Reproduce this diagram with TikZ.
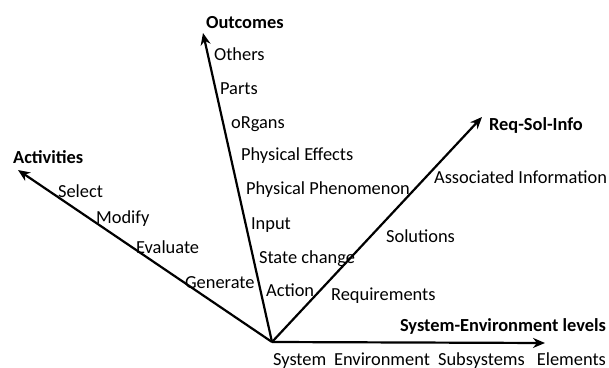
\documentclass[tikz,border=0pt]{standalone}
\usepackage{fontspec}
\setmainfont{Carlito}
\usetikzlibrary{arrows.meta}

\begin{document}
\begin{tikzpicture}[x=0.5pt, y=-0.5pt, line width=1.1pt, font=\fontsize{9.2}{11}\selectfont,
        lbl/.style = {inner sep=0pt, anchor=west, text height=1.5ex, text depth=0.4ex},
        ttl/.style = {lbl, font=\fontsize{9.2}{11}\selectfont\bfseries},
        axis/.style = {-{Stealth[length=6pt, width=5pt]}}]
        \useasboundingbox (0,0) rectangle (609,368);
        \coordinate (o) at (272,342);
        \coordinate (act) at (18,170);
        \coordinate (out) at (203,33);
        \coordinate (req) at (482,117);
        \coordinate (sys) at (545,343);
        \draw[axis] (o) -- (act);
        \draw[axis] (o) -- (out);
        \draw[axis] (o) -- (req);
        \draw[axis] (o) -- (sys);
        % axis titles
        \node[ttl] (acttitle) at (12,158) {Activities};
        \node[ttl] (outtitle) at (205,23) {Outcomes};
        \node[ttl] (reqtitle) at (488,125) {Req-Sol-Info};
        \node[ttl, anchor=east] (systitle) at (607,326) {System-Environment levels};
        % activities
        \node[lbl] (a1) at (57,192) {Select};
        \node[lbl] (a2) at (95,218) {Modify};
        \node[lbl] (a3) at (135,248) {Evaluate};
        \node[lbl] (a4) at (184,283) {Generate};
        % outcomes
        \node[lbl] (o1) at (213,55) {Others};
        \node[lbl] (o2) at (219,89) {Parts};
        \node[lbl] (o3) at (230,123) {oRgans};
        \node[lbl] (o4) at (240,155) {Physical Effects};
        \node[lbl] (o5) at (245,189) {Physical Phenomenon};
        \node[lbl] (o6) at (250,224) {Input};
        \node[lbl] (o7) at (258,258) {State change};
        \node[lbl] (o8) at (265,291) {Action};
        % req-sol-info
        \node[lbl] (r1) at (330,295) {Requirements};
        \node[lbl] (r2) at (385,237) {Solutions};
        \node[lbl] (r3) at (433,178) {Associated Information};
        % levels
        \node[lbl] (s1) at (272,360) {System};
        \node[lbl] (s2) at (333,360) {Environment};
        \node[lbl] (s3) at (437,360) {Subsystems};
        \node[lbl, anchor=east] (s4) at (607,360) {Elements};
    \end{tikzpicture}
\end{document}
